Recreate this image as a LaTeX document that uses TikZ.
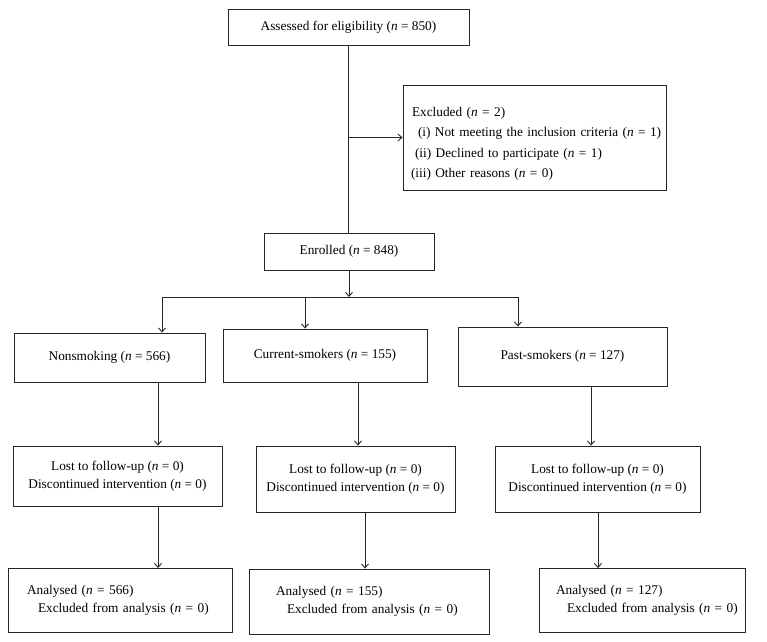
\documentclass[tikz,border=0pt]{standalone}
\usepackage{fontspec}
\setmainfont{Liberation Serif}
\usetikzlibrary{arrows.meta,positioning}
\tikzset{
    %Define standard arrow tip
    >={Straight Barb[length=4pt,width=7pt]},
    %Define style for boxes
    stage/.style={
      rectangle,
      draw=black!85, line width=0.9pt,
      inner sep=0pt,
      font=\fontsize{13.3}{18}\selectfont,
      align=center},
    % Boxes with text set from the left
    listbox/.style={
      stage,
      align=left},
    % Define arrow style
    arr/.style={
      ->,
      line width=0.9pt,
      draw=black!85}
}

\begin{document}
\begin{tikzpicture}[x=1pt, y=-1pt]
    \useasboundingbox (0,0) rectangle (767,641);

    % top of the chart
    \node[stage, minimum width=241pt, minimum height=36pt] (assess) at (348.5,27)
      {Assessed for eligibility (\textit{n} = 850)};
    \node[listbox, text width=263pt, minimum height=105pt,
      font=\fontsize{13.3}{20.5}\selectfont] (excl) at (534.5,137.5)
      {\mbox{\rule{0pt}{21.5pt}\hspace*{9pt}Excluded (\textit{n} = 2)}\\
       \mbox{\hspace*{15pt}(i) Not meeting the inclusion criteria (\textit{n} = 1)}\\
       \mbox{\hspace*{12pt}(ii) Declined to participate (\textit{n} = 1)}\\
       \mbox{\hspace*{8pt}(iii) Other reasons (\textit{n} = 0)}};
    \node[stage, minimum width=170pt, minimum height=37pt] (enrol) at (349,251.5)
      {Enrolled (\textit{n} = 848)};

    % groups
    \node[stage, minimum width=191pt, minimum height=49pt] (nonsm) at (109.5,357.5)
      {Nonsmoking (\textit{n} = 566)};
    \node[stage, minimum width=204pt, minimum height=53pt] (curr) at (325,355.5)
      {Current-smokers (\textit{n} = 155)};
    \node[stage, minimum width=209pt, minimum height=59pt] (past) at (562.5,356.5)
      {Past-smokers (\textit{n} = 127)};

    % follow-up
    \node[stage, minimum width=209pt, minimum height=60pt] (lostA) at (117.5,476)
      {Lost to follow-up (\textit{n} = 0)\\Discontinued intervention (\textit{n} = 0)};
    \node[stage, minimum width=199pt, minimum height=66pt] (lostB) at (355.5,479)
      {Lost to follow-up (\textit{n} = 0)\\Discontinued intervention (\textit{n} = 0)};
    \node[stage, minimum width=205pt, minimum height=66pt] (lostC) at (597.5,479)
      {Lost to follow-up (\textit{n} = 0)\\Discontinued intervention (\textit{n} = 0)};

    % analysis
    \node[listbox, text width=224pt, minimum height=64pt] (anA) at (120,600.5)
      {\mbox{\hspace*{19pt}Analysed (\textit{n} = 566)}\\
       \mbox{\hspace*{30pt}Excluded from analysis (\textit{n} = 0)}};
    \node[listbox, text width=240pt, minimum height=65pt] (anB) at (369,601.5)
      {\mbox{\hspace*{27pt}Analysed (\textit{n} = 155)}\\
       \mbox{\hspace*{38pt}Excluded from analysis (\textit{n} = 0)}};
    \node[listbox, text width=206pt, minimum height=64pt] (anC) at (642,600.5)
      {\mbox{\hspace*{17pt}Analysed (\textit{n} = 127)}\\
       \mbox{\hspace*{28pt}Excluded from analysis (\textit{n} = 0)}};

    % columns of the connectors
    \coordinate (brL) at (162,297);
    \coordinate (brM) at (305,297);
    \coordinate (brR) at (518,297);
    \coordinate (colA) at (158,0);
    \coordinate (colB1) at (358,0);
    \coordinate (colB2) at (365,0);
    \coordinate (colC1) at (591,0);
    \coordinate (colC2) at (598,0);

    \draw[arr, -] (assess.south) -- (assess.south |- enrol.north);
    \draw[arr] (assess.south |- excl.west) -- (excl.west);
    \draw[arr] (enrol.south) -- (enrol.south |- brM);
    \draw[arr, -] (brL) -- (brR);
    \draw[arr] (brL) -- (brL |- nonsm.north);
    \draw[arr] (brM) -- (brM |- curr.north);
    \draw[arr] (brR) -- (brR |- past.north);

    \draw[arr] (colA |- nonsm.south) -- (colA |- lostA.north);
    \draw[arr] (colB1 |- curr.south) -- (colB1 |- lostB.north);
    \draw[arr] (colC1 |- past.south) -- (colC1 |- lostC.north);

    \draw[arr] (colA |- lostA.south) -- (colA |- anA.north);
    \draw[arr] (colB2 |- lostB.south) -- (colB2 |- anB.north);
    \draw[arr] (colC2 |- lostC.south) -- (colC2 |- anC.north);
\end{tikzpicture}
\end{document}
